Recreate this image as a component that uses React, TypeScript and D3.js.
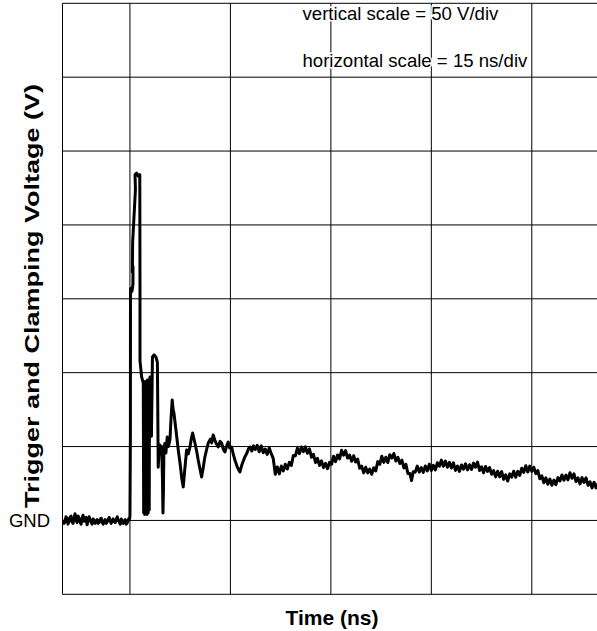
import React from "react";
import * as d3 from "d3";

// Time in ns (0 = trigger), voltage in V relative to GND
const preTrigger: [number, number][] = [
  [-10.0, 0.5], [-9.85, -2.0], [-9.7, -1.0], [-9.55, 2.5], [-9.4, 1.5], [-9.25, -2.5],
  [-9.1, -0.5], [-8.95, 2.0], [-8.8, 3.0], [-8.65, -1.0], [-8.5, -2.0], [-8.35, 1.5],
  [-8.2, 4.5], [-8.05, 0.5], [-7.9, -1.5], [-7.75, 3.0], [-7.6, 2.0], [-7.45, -1.0],
  [-7.3, -2.5], [-7.15, 1.0], [-7.0, 3.5], [-6.85, -0.5], [-6.7, 0.0], [-6.55, 2.0],
  [-6.4, -3.0], [-6.25, -0.5], [-6.1, 2.5], [-5.95, 0.5], [-5.8, -1.0], [-5.65, -2.5],
  [-5.5, 1.0], [-5.35, 0.0], [-5.2, -2.0], [-5.05, -0.5], [-4.9, 0.5], [-4.75, -2.0],
  [-4.6, -1.5], [-4.45, 0.5], [-4.3, 1.5], [-4.15, -1.0], [-4.0, -2.5], [-3.85, -0.5],
  [-3.7, 0.5], [-3.55, -2.0], [-3.4, -1.0], [-3.25, 0.5], [-3.1, 2.0], [-2.95, -0.5],
  [-2.8, -2.0], [-2.65, 0.0], [-2.5, 1.0], [-2.35, -1.0], [-2.2, -1.5], [-2.05, 0.5],
  [-1.9, 2.5], [-1.75, 0.0], [-1.6, -1.0], [-1.45, -2.5], [-1.3, 1.0], [-1.15, -0.5],
  [-1.0, -2.0], [-0.85, -0.5], [-0.7, 0.5], [-0.55, -2.5], [-0.4, -1.5], [-0.25, 0.0],
  [-0.15, 1.5],
];

const pulse: [number, number][] = [
  [-0.05, 1.0], [0.0, 3.0], [0.07, 60], [0.08, 157], [0.3, 155], [0.45, 160],
  [0.45, 172], [0.36, 168], [0.4, 188], [0.6, 205], [0.82, 224], [0.76, 234],
  [1.0, 235], [1.25, 233], [1.47, 234], [1.5, 160], [1.5, 108], [1.75, 97], [1.99, 93],
  [2.05, 5], [2.1, 90], [2.2, 4], [2.28, 94], [2.38, 6], [2.45, 91], [2.55, 4],
  [2.62, 95], [2.72, 5], [2.8, 92], [2.88, 7], [2.92, 94], [2.99, 97],
];

const ringdown: [number, number][] = [
  [3.1, 80], [3.21, 57], [3.36, 110.6], [3.6, 112], [3.88, 110.6], [4.1, 107],
  [4.22, 36], [4.35, 48], [4.48, 51], [4.6, 45], [4.73, 50], [4.85, 30], [4.93, 5],
  [5.0, 20], [5.07, 48], [5.2, 52], [5.37, 45.7], [5.57, 56.5], [5.75, 50], [5.97, 54.5],
  [6.15, 70], [6.31, 81.5], [6.45, 75], [6.57, 72.7], [6.9, 60], [7.21, 47.7], [7.5, 38],
  [7.75, 28], [7.96, 22.7], [8.2, 35], [8.46, 47.7], [8.7, 45], [8.96, 49.7], [9.15, 55],
  [9.36, 59.2], [9.7, 52.4], [10.0, 46.0], [10.19, 40.9], [10.45, 35.0], [10.7, 29.4],
  [10.95, 36.0], [11.19, 43.0], [11.45, 48.0], [11.69, 52.4], [12.0, 55.0], [12.2, 52.5],
  [12.43, 57.8], [12.7, 54.0], [12.95, 51.5], [13.18, 49.7], [13.45, 53.5], [13.69, 52.4],
  [13.95, 48.0], [14.18, 46.3], [14.45, 50.5], [14.67, 53.1], [14.9, 49.0], [15.18, 49.7],
  [15.45, 44.5], [15.67, 40.9], [16.0, 36.5], [16.2, 34.5], [16.42, 32.8], [16.7, 37.5],
  [16.95, 40.5], [17.16, 43.0], [17.45, 45.5], [17.7, 48.5], [17.91, 49.7], [18.2, 47.0],
  [18.45, 50.5], [18.7, 48.0],
];

const tail: [number, number][] = [
  [19.0, 50.8], [19.3, 46.5], [19.6, 50.5], [19.9, 45.8], [20.2, 48.3], [20.5, 44.7],
  [20.8, 49.0], [21.1, 45.2], [21.4, 41.8], [21.7, 31.2], [22.0, 36.2], [22.3, 31.5],
  [22.6, 36.8], [22.9, 33.5], [23.2, 38.0], [23.5, 34.8], [23.8, 39.3], [24.1, 37.2],
  [24.4, 44.0], [24.7, 43.7], [25.0, 48.8], [25.3, 45.2], [25.6, 49.7], [25.9, 46.5],
  [26.2, 49.8], [26.5, 45.5], [26.8, 48.5], [27.1, 42.8], [27.4, 44.8], [27.7, 39.2],
  [28.0, 42.0], [28.3, 37.2], [28.6, 40.3], [28.9, 35.7], [29.2, 38.7], [29.5, 35.0],
  [29.8, 39.3], [30.1, 38.0], [30.4, 43.5], [30.7, 39.8], [31.0, 44.3], [31.3, 41.7],
  [31.6, 47.5], [31.9, 44.2], [32.2, 47.3], [32.5, 42.2], [32.8, 44.2], [33.1, 40.0],
  [33.4, 43.8], [33.7, 39.5], [34.0, 41.5], [34.3, 35.3], [34.6, 36.8], [34.9, 32.2],
  [35.2, 36.0], [35.5, 32.2], [35.8, 34.8], [36.1, 31.2], [36.4, 35.7], [36.7, 33.5],
  [37.0, 39.8], [37.3, 38.0], [37.6, 43.5], [37.9, 39.3], [38.2, 42.8], [38.5, 39.2],
  [38.8, 44.5], [39.1, 42.2], [39.4, 45.3], [39.7, 40.2], [40.0, 42.7], [40.3, 38.5],
  [40.6, 40.8], [40.9, 35.5], [41.2, 38.0], [41.5, 31.8], [41.8, 31.8], [42.05, 27.0],
  [42.3, 33.0], [42.6, 32.7], [42.9, 36.8], [43.2, 32.7], [43.5, 35.7], [43.8, 32.5],
  [44.1, 36.8], [44.4, 33.5], [44.7, 38.0], [45.0, 33.8], [45.3, 37.3], [45.6, 34.2],
  [45.9, 39.0], [46.2, 36.7], [46.5, 40.8], [46.8, 36.7], [47.1, 40.2], [47.4, 36.0],
  [47.7, 39.3], [48.0, 35.5], [48.3, 39.0], [48.6, 33.8], [48.9, 36.8], [49.2, 33.2],
  [49.5, 37.5], [49.8, 34.7], [50.1, 38.3], [50.4, 34.2], [50.7, 37.7], [51.0, 34.5],
  [51.3, 38.8], [51.6, 36.0], [51.9, 39.5], [52.2, 33.8], [52.5, 36.3], [52.8, 32.2],
  [53.1, 36.5], [53.4, 33.2], [53.7, 35.8], [54.0, 31.2], [54.3, 33.7], [54.6, 29.5],
  [54.9, 33.3], [55.2, 29.5], [55.5, 33.0], [55.8, 27.8], [56.1, 30.8], [56.4, 26.7],
  [56.7, 31.5], [57.0, 29.2], [57.3, 33.3], [57.6, 29.2], [57.9, 33.2], [58.2, 30.5],
  [58.5, 35.3], [58.8, 32.5], [59.1, 37.0], [59.4, 32.8], [59.7, 36.8], [60.0, 33.2],
  [60.3, 36.0], [60.6, 31.7], [60.9, 33.8], [61.2, 28.2], [61.5, 30.2], [61.8, 25.5],
  [62.1, 28.8], [62.4, 24.5], [62.7, 28.0], [63.0, 23.8], [63.3, 27.3], [63.6, 24.2],
  [63.9, 29.0], [64.2, 26.7], [64.5, 30.8], [64.8, 27.2], [65.1, 30.7], [65.4, 27.5],
  [65.7, 32.3], [66.0, 28.5], [66.3, 31.5], [66.6, 26.3], [66.9, 28.8], [67.2, 24.7],
  [67.5, 29.0], [67.8, 25.7], [68.1, 28.8], [68.4, 23.7], [68.7, 26.2], [69.0, 22.0],
  [69.3, 25.8], [69.6, 22.0], [69.9, 25.0],
];

const xGridTicks = [0, 15, 30, 45, 60];
const yGridTicks = [-50, 0, 50, 100, 150, 200, 250, 300, 350];
const xDomain: [number, number] = [-10.07, 69.75];
const yDomain: [number, number] = [-50, 350];

const noteLines = ["vertical scale = 50 V/div", "horizontal scale = 15 ns/div"];
const xTitle = "Time (ns)";
const yTitle = "Trigger and Clamping Voltage (V)";
const gndLabel = "GND";

const W = 597;
const H = 631;
const FONT = "Arial, 'Liberation Sans', Helvetica, sans-serif";

export default function App() {
  const left = 62.5;
  const right = 597.1;
  const top = 3.3;
  const bottom = 594.3;

  const x = d3.scaleLinear().domain(xDomain).range([left, right]);
  const y = d3.scaleLinear().domain(yDomain).range([bottom, top]);

  const data = [...preTrigger, ...pulse, ...ringdown, ...tail];
  const line = d3
    .line<[number, number]>()
    .x((d) => x(d[0]))
    .y((d) => y(d[1]));

  return (
    <svg
      width={W}
      height={H}
      style={{ position: "absolute", left: 0, top: 0, background: "#fff" }}
    >
      <rect x={0} y={0} width={W} height={H} fill="#fff" />
      <defs>
        <clipPath id="plotClip">
          <rect x={left} y={top - 2} width={right - left} height={bottom - top + 4} />
        </clipPath>
      </defs>
      {/* grid */}
      <g stroke="#000" strokeWidth={1}>
        {yGridTicks.map((v) => (
          <line key={"h" + v} x1={left} x2={W} y1={y(v)} y2={y(v)} />
        ))}
        {xGridTicks.map((t) => (
          <line key={"v" + t} x1={x(t)} x2={x(t)} y1={top} y2={bottom} />
        ))}
        <line x1={left} x2={left} y1={top} y2={bottom} />
      </g>
      {/* notes */}
      <g
        fontFamily={FONT}
        fontSize={18.6}
        fill="#000"
        stroke="#fff"
        strokeWidth={3}
        style={{ paintOrder: "stroke" } as any}
      >
        <text x={302.5} y={20}>{noteLines[0]}</text>
        <text x={302.5} y={67}>{noteLines[1]}</text>
      </g>
      {/* trace */}
      <path
        d={line(data) || ""}
        fill="none"
        stroke="#000"
        strokeWidth={3}
        strokeLinejoin="round"
        clipPath="url(#plotClip)"
      />
      {/* labels */}
      <text x={50} y={527} textAnchor="end" fontFamily={FONT} fontSize={18.5} fill="#000">
        {gndLabel}
      </text>
      <text
        x={332}
        y={625}
        textAnchor="middle"
        fontFamily={FONT}
        fontSize={21}
        fontWeight="bold"
        fill="#000"
      >
        {xTitle}
      </text>
      <text
        transform={`translate(39, 296) rotate(-90)`}
        textAnchor="middle"
        textLength={424}
        lengthAdjust="spacingAndGlyphs"
        fontFamily={FONT}
        fontSize={21}
        fontWeight="bold"
        fill="#000"
      >
        {yTitle}
      </text>
    </svg>
  );
}
